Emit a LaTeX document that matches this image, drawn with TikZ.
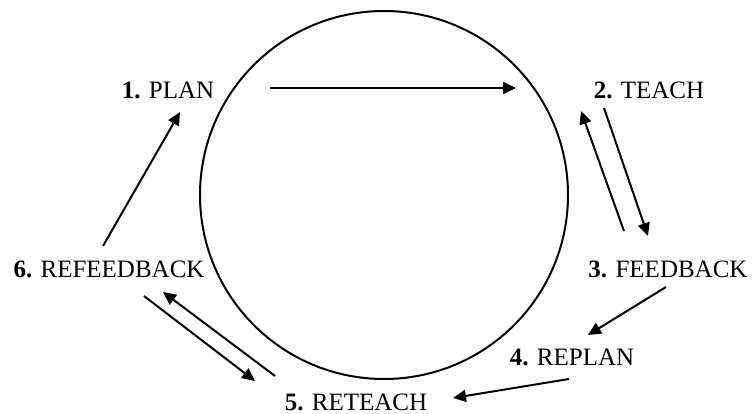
\documentclass[tikz,border=0pt]{standalone}
\usepackage{fontspec}
\setmainfont{Liberation Serif}
\usetikzlibrary{arrows.meta}
\begin{document}
\begin{tikzpicture}[x=1pt,y=-1pt,
  lbl/.style={inner sep=0pt,font=\fontsize{25}{29}\selectfont},
  arr/.style={line width=2pt,-{Triangle[length=13pt,width=12pt]}}]
\useasboundingbox (0,0) rectangle (753,414);
\draw[line width=2pt] (384,195) circle[radius=184];
\node[lbl] (n1) at (168,90) {\textbf{1.} PLAN};
\node[lbl] (n2) at (649,90) {\textbf{2.} TEACH};
\node[lbl] (n3) at (668,269) {\textbf{3.} FEEDBACK};
\node[lbl] (n4) at (572,357) {\textbf{4.} REPLAN};
\node[lbl] (n5) at (356,402) {\textbf{5.} RETEACH};
\node[lbl] (n6) at (109,269) {\textbf{6.} REFEEDBACK};
\coordinate (a12s) at (270,88);  \coordinate (a12e) at (516,88);
\coordinate (a61s) at (103,246); \coordinate (a61e) at (180,112);
\coordinate (a23s) at (604,108); \coordinate (a23e) at (648,236);
\coordinate (a32s) at (624,231); \coordinate (a32e) at (581,111);
\coordinate (a34s) at (666,287); \coordinate (a34e) at (588,335);
\coordinate (a45s) at (569,379); \coordinate (a45e) at (453,398);
\coordinate (a65s) at (144,296); \coordinate (a65e) at (255,381);
\coordinate (a56s) at (275,376); \coordinate (a56e) at (163,292);
\draw[arr] (a12s) -- (a12e);
\draw[arr] (a61s) -- (a61e);
\draw[arr] (a23s) -- (a23e);
\draw[arr] (a32s) -- (a32e);
\draw[arr] (a34s) -- (a34e);
\draw[arr] (a45s) -- (a45e);
\draw[arr] (a65s) -- (a65e);
\draw[arr] (a56s) -- (a56e);
\end{tikzpicture}
\end{document}
